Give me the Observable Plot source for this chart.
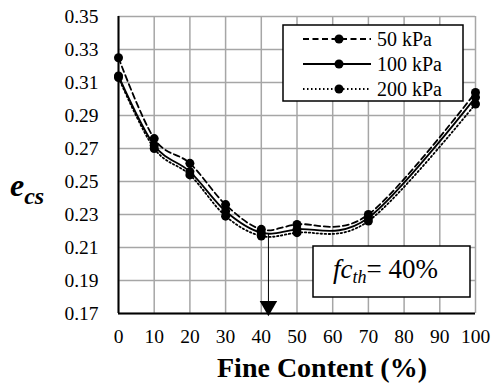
<!DOCTYPE html>
<html>
<head>
<meta charset="utf-8">
<script src="https://cdn.jsdelivr.net/npm/d3@7"></script>
<script src="https://cdn.jsdelivr.net/npm/@observablehq/plot@0.6"></script>
<style>
  body { margin: 0; background: white; }
  #chart { position: relative; width: 492px; height: 387px; }
</style>
</head>
<body>
<div id="chart"></div>
<script>
const fineContent = [0, 10, 20, 30, 40, 50, 70, 100];
const e50  = [0.325, 0.276, 0.261, 0.236, 0.221, 0.224, 0.230, 0.304];
const e100 = [0.314, 0.272, 0.256, 0.232, 0.219, 0.221, 0.228, 0.301];
const e200 = [0.313, 0.270, 0.254, 0.229, 0.217, 0.219, 0.226, 0.297];
const seriesNames = ["50 kPa", "100 kPa", "200 kPa"];
const xTicks = [0, 10, 20, 30, 40, 50, 60, 70, 80, 90, 100];
const yTicks = [0.17, 0.19, 0.21, 0.23, 0.25, 0.27, 0.29, 0.31, 0.33, 0.35];
const thresholdX = 42;
const thresholdTop = 0.218;
const thresholdLabel = "40%";

const dashes = ["6,3.5", null, "1.5,2.5"];
const allSeries = [e50, e100, e200];
const series = allSeries.map((vals, i) =>
  fineContent.map((fc, j) => ({fc, e: vals[j], s: seriesNames[i]}))
);

const font = "'Liberation Serif', 'Times New Roman', serif";

const lineMarks = series.flatMap((d, i) => [
  Plot.line(d, {x: "fc", y: "e", stroke: "black", strokeWidth: 1.8,
    strokeDasharray: dashes[i], curve: d3.curveCatmullRom.alpha(0)}),
  Plot.dot(d, {x: "fc", y: "e", fill: "black", r: 4.5})
]);

const plot = Plot.plot({
  width: 492,
  height: 387,
  marginLeft: 118,
  marginRight: 17,
  marginTop: 16,
  marginBottom: 74,
  style: {fontFamily: font, fontSize: "19px", color: "black", background: "white"},
  x: {domain: [0, 100], ticks: xTicks},
  y: {domain: [0.17, 0.35], ticks: yTicks},
  marks: [
    Plot.gridX(xTicks, {stroke: "#a6a6a6", strokeOpacity: 1, strokeWidth: 1.5}),
    Plot.gridY(yTicks, {stroke: "#a6a6a6", strokeOpacity: 1, strokeWidth: 1.5}),
    Plot.ruleX([0], {stroke: "black", strokeWidth: 2}),
    Plot.ruleY([0.17], {stroke: "black", strokeWidth: 2}),
    Plot.axisX(xTicks, {tickSize: 0, tickPadding: 16, fontSize: 19.5, label: null}),
    Plot.axisY(yTicks, {tickSize: 0, tickPadding: 20, fontSize: 19.5, label: null,
      tickFormat: d3.format(".2f")}),
    Plot.ruleX([thresholdX], {y1: thresholdTop, y2: 0.176, stroke: "black", strokeWidth: 1}),
    Plot.dot([thresholdX], {x: d => d, y: 0.1745, symbol: "triangle", r: 6.5,
      fill: "black", rotate: 180}),
    ...lineMarks
  ]
});

const svg = d3.select(plot);
function txt(sel) {
  return sel.append("text").style("font-family", font).attr("fill", "black")
    .attr("text-anchor", "start");
}
// x axis title
txt(svg).attr("x", 322).attr("y", 377).attr("text-anchor", "middle")
  .style("font-weight", "bold").style("font-size", "28px").text("Fine Content (%)");
// y axis title
const yl = txt(svg).attr("x", 10).attr("y", 196)
  .style("font-weight", "bold").style("font-style", "italic").style("font-size", "32px");
yl.append("tspan").text("e");
yl.append("tspan").attr("dy", 8).style("font-size", "24px").text("cs");

// legend
const lg = svg.append("g");
lg.append("rect").attr("x", 283).attr("y", 25).attr("width", 180).attr("height", 76)
  .attr("fill", "white").attr("stroke", "black").attr("stroke-width", 1.5);
seriesNames.forEach((name, i) => {
  const yy = 39 + i * 25;
  lg.append("line").attr("x1", 303).attr("x2", 371).attr("y1", yy).attr("y2", yy)
    .attr("stroke", "black").attr("stroke-width", 1.8)
    .attr("stroke-dasharray", dashes[i]);
  lg.append("circle").attr("cx", 339).attr("cy", yy).attr("r", 4.5).attr("fill", "black");
  txt(lg).attr("x", 377).attr("y", yy).attr("dy", "0.35em")
    .style("font-size", "20px").text(name);
});

// threshold annotation
const ab = svg.append("g");
ab.append("rect").attr("x", 313).attr("y", 246).attr("width", 157).attr("height", 51)
  .attr("fill", "white").attr("stroke", "black").attr("stroke-width", 1.5);
const at = txt(ab).attr("x", 333).attr("y", 278).style("font-size", "27px");
at.append("tspan").style("font-style", "italic").text("fc");
at.append("tspan").style("font-style", "italic").attr("dy", 5).style("font-size", "18px").text("th");
at.append("tspan").attr("dy", -5).text("= " + thresholdLabel);

document.getElementById("chart").appendChild(plot);
</script>
</body>
</html>
